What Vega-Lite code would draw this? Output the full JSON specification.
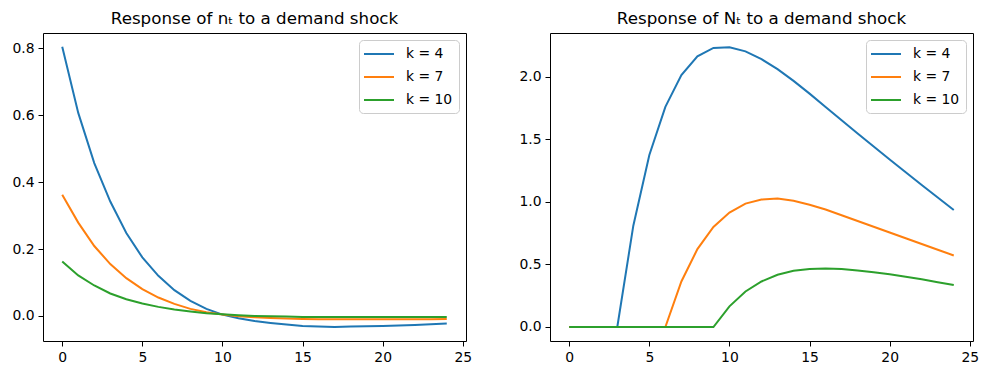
{
  "$schema": "https://vega.github.io/schema/vega-lite/v6.json",
  "padding": {"left": 11, "top": 10, "right": 8, "bottom": 10},
  "background": "white",
  "bounds": "flush",
  "spacing": 84,
  "config": {
    "font": "DejaVu Sans",
    "view": {"stroke": "black", "strokeWidth": 1},
    "axis": {"grid": false, "domain": false, "tickColor": "black", "tickSize": 5, "tickWidth": 1, "labelFontSize": 13.9, "labelColor": "black", "labelPadding": 4, "labelFont": "DejaVu Sans", "title": null},
    "title": {"fontSize": 16.7, "fontWeight": "normal", "font": "DejaVu Sans", "color": "black", "baseline": "alphabetic", "offset": 5, "frame": "group"},
    "legend": {"orient": "top-right", "offset": 7, "padding": 6, "strokeColor": "#cccccc", "fillColor": "white", "cornerRadius": 4, "symbolType": "M-1.286,0H3", "symbolSize": 196, "symbolStrokeWidth": 2, "labelFontSize": 13.9, "labelFont": "DejaVu Sans", "labelColor": "black", "labelOffset": 25, "rowPadding": 8, "title": null}
  },
  "datasets": {
    "n": [
      {"t":0,"k":"k = 4","v":0.805},{"t":1,"k":"k = 4","v":0.607},{"t":2,"k":"k = 4","v":0.457},{"t":3,"k":"k = 4","v":0.342},{"t":4,"k":"k = 4","v":0.248},{"t":5,"k":"k = 4","v":0.175},{"t":6,"k":"k = 4","v":0.120},{"t":7,"k":"k = 4","v":0.077},{"t":8,"k":"k = 4","v":0.045},{"t":9,"k":"k = 4","v":0.021},{"t":10,"k":"k = 4","v":0.004},{"t":11,"k":"k = 4","v":-0.007},{"t":12,"k":"k = 4","v":-0.015},{"t":13,"k":"k = 4","v":-0.021},{"t":14,"k":"k = 4","v":-0.026},{"t":15,"k":"k = 4","v":-0.030},{"t":16,"k":"k = 4","v":-0.032},{"t":17,"k":"k = 4","v":-0.033},{"t":18,"k":"k = 4","v":-0.032},{"t":19,"k":"k = 4","v":-0.031},{"t":20,"k":"k = 4","v":-0.030},{"t":21,"k":"k = 4","v":-0.029},{"t":22,"k":"k = 4","v":-0.027},{"t":23,"k":"k = 4","v":-0.025},{"t":24,"k":"k = 4","v":-0.023},
      {"t":0,"k":"k = 7","v":0.362},{"t":1,"k":"k = 7","v":0.279},{"t":2,"k":"k = 7","v":0.209},{"t":3,"k":"k = 7","v":0.155},{"t":4,"k":"k = 7","v":0.113},{"t":5,"k":"k = 7","v":0.080},{"t":6,"k":"k = 7","v":0.055},{"t":7,"k":"k = 7","v":0.036},{"t":8,"k":"k = 7","v":0.021},{"t":9,"k":"k = 7","v":0.011},{"t":10,"k":"k = 7","v":0.004},{"t":11,"k":"k = 7","v":-0.001},{"t":12,"k":"k = 7","v":-0.004},{"t":13,"k":"k = 7","v":-0.006},{"t":14,"k":"k = 7","v":-0.008},{"t":15,"k":"k = 7","v":-0.009},{"t":16,"k":"k = 7","v":-0.010},{"t":17,"k":"k = 7","v":-0.010},{"t":18,"k":"k = 7","v":-0.010},{"t":19,"k":"k = 7","v":-0.010},{"t":20,"k":"k = 7","v":-0.010},{"t":21,"k":"k = 7","v":-0.010},{"t":22,"k":"k = 7","v":-0.010},{"t":23,"k":"k = 7","v":-0.010},{"t":24,"k":"k = 7","v":-0.009},
      {"t":0,"k":"k = 10","v":0.163},{"t":1,"k":"k = 10","v":0.121},{"t":2,"k":"k = 10","v":0.091},{"t":3,"k":"k = 10","v":0.067},{"t":4,"k":"k = 10","v":0.050},{"t":5,"k":"k = 10","v":0.037},{"t":6,"k":"k = 10","v":0.027},{"t":7,"k":"k = 10","v":0.019},{"t":8,"k":"k = 10","v":0.013},{"t":9,"k":"k = 10","v":0.008},{"t":10,"k":"k = 10","v":0.005},{"t":11,"k":"k = 10","v":0.002},{"t":12,"k":"k = 10","v":0.000},{"t":13,"k":"k = 10","v":-0.001},{"t":14,"k":"k = 10","v":-0.002},{"t":15,"k":"k = 10","v":-0.003},{"t":16,"k":"k = 10","v":-0.003},{"t":17,"k":"k = 10","v":-0.003},{"t":18,"k":"k = 10","v":-0.003},{"t":19,"k":"k = 10","v":-0.003},{"t":20,"k":"k = 10","v":-0.003},{"t":21,"k":"k = 10","v":-0.003},{"t":22,"k":"k = 10","v":-0.003},{"t":23,"k":"k = 10","v":-0.003},{"t":24,"k":"k = 10","v":-0.003}
    ],
    "N": [
      {"t":0,"k":"k = 4","v":0},{"t":1,"k":"k = 4","v":0},{"t":2,"k":"k = 4","v":0},{"t":3,"k":"k = 4","v":0},{"t":4,"k":"k = 4","v":0.81},{"t":5,"k":"k = 4","v":1.375},{"t":6,"k":"k = 4","v":1.76},{"t":7,"k":"k = 4","v":2.015},{"t":8,"k":"k = 4","v":2.164},{"t":9,"k":"k = 4","v":2.232},{"t":10,"k":"k = 4","v":2.237},{"t":11,"k":"k = 4","v":2.204},{"t":12,"k":"k = 4","v":2.142},{"t":13,"k":"k = 4","v":2.062},{"t":14,"k":"k = 4","v":1.968},{"t":15,"k":"k = 4","v":1.866},{"t":16,"k":"k = 4","v":1.76},{"t":17,"k":"k = 4","v":1.654},{"t":18,"k":"k = 4","v":1.548},{"t":19,"k":"k = 4","v":1.443},{"t":20,"k":"k = 4","v":1.34},{"t":21,"k":"k = 4","v":1.238},{"t":22,"k":"k = 4","v":1.135},{"t":23,"k":"k = 4","v":1.035},{"t":24,"k":"k = 4","v":0.935},
      {"t":0,"k":"k = 7","v":0},{"t":1,"k":"k = 7","v":0},{"t":2,"k":"k = 7","v":0},{"t":3,"k":"k = 7","v":0},{"t":4,"k":"k = 7","v":0},{"t":5,"k":"k = 7","v":0},{"t":6,"k":"k = 7","v":0},{"t":7,"k":"k = 7","v":0.364},{"t":8,"k":"k = 7","v":0.623},{"t":9,"k":"k = 7","v":0.8},{"t":10,"k":"k = 7","v":0.915},{"t":11,"k":"k = 7","v":0.987},{"t":12,"k":"k = 7","v":1.019},{"t":13,"k":"k = 7","v":1.027},{"t":14,"k":"k = 7","v":1.009},{"t":15,"k":"k = 7","v":0.977},{"t":16,"k":"k = 7","v":0.94},{"t":17,"k":"k = 7","v":0.894},{"t":18,"k":"k = 7","v":0.848},{"t":19,"k":"k = 7","v":0.802},{"t":20,"k":"k = 7","v":0.756},{"t":21,"k":"k = 7","v":0.71},{"t":22,"k":"k = 7","v":0.664},{"t":23,"k":"k = 7","v":0.618},{"t":24,"k":"k = 7","v":0.572},
      {"t":0,"k":"k = 10","v":0},{"t":1,"k":"k = 10","v":0},{"t":2,"k":"k = 10","v":0},{"t":3,"k":"k = 10","v":0},{"t":4,"k":"k = 10","v":0},{"t":5,"k":"k = 10","v":0},{"t":6,"k":"k = 10","v":0},{"t":7,"k":"k = 10","v":0},{"t":8,"k":"k = 10","v":0},{"t":9,"k":"k = 10","v":0},{"t":10,"k":"k = 10","v":0.165},{"t":11,"k":"k = 10","v":0.284},{"t":12,"k":"k = 10","v":0.364},{"t":13,"k":"k = 10","v":0.418},{"t":14,"k":"k = 10","v":0.45},{"t":15,"k":"k = 10","v":0.463},{"t":16,"k":"k = 10","v":0.468},{"t":17,"k":"k = 10","v":0.463},{"t":18,"k":"k = 10","v":0.452},{"t":19,"k":"k = 10","v":0.438},{"t":20,"k":"k = 10","v":0.421},{"t":21,"k":"k = 10","v":0.402},{"t":22,"k":"k = 10","v":0.381},{"t":23,"k":"k = 10","v":0.358},{"t":24,"k":"k = 10","v":0.335}
    ]
  },
  "hconcat": [
    {
      "width": 423, "height": 308,
      "title": "Response of nₜ to a demand shock",
      "data": {"name": "n"},
      "mark": {"type": "line", "strokeWidth": 2},
      "encoding": {
        "x": {"field": "t", "type": "quantitative", "scale": {"domain": [-1.2, 25.2], "nice": false, "zero": false}, "axis": {"values": [0, 5, 10, 15, 20, 25], "format": "d"}},
        "y": {"field": "v", "type": "quantitative", "scale": {"domain": [-0.075, 0.846], "nice": false, "zero": false}, "axis": {"values": [0, 0.2, 0.4, 0.6, 0.8], "format": ".1f"}},
        "color": {"field": "k", "type": "nominal", "sort": null, "scale": {"domain": ["k = 4", "k = 7", "k = 10"], "range": ["#1f77b4", "#ff7f0e", "#2ca02c"]}}
      }
    },
    {
      "width": 423, "height": 308,
      "title": "Response of Nₜ to a demand shock",
      "data": {"name": "N"},
      "mark": {"type": "line", "strokeWidth": 2},
      "encoding": {
        "x": {"field": "t", "type": "quantitative", "scale": {"domain": [-1.2, 25.2], "nice": false, "zero": false}, "axis": {"values": [0, 5, 10, 15, 20, 25], "format": "d"}},
        "y": {"field": "v", "type": "quantitative", "scale": {"domain": [-0.112, 2.351], "nice": false, "zero": false}, "axis": {"values": [0, 0.5, 1, 1.5, 2], "format": ".1f"}},
        "color": {"field": "k", "type": "nominal", "sort": null, "scale": {"domain": ["k = 4", "k = 7", "k = 10"], "range": ["#1f77b4", "#ff7f0e", "#2ca02c"]}}
      }
    }
  ],
  "resolve": {"scale": {"color": "independent", "x": "independent", "y": "independent"}, "legend": {"color": "independent"}}
}
